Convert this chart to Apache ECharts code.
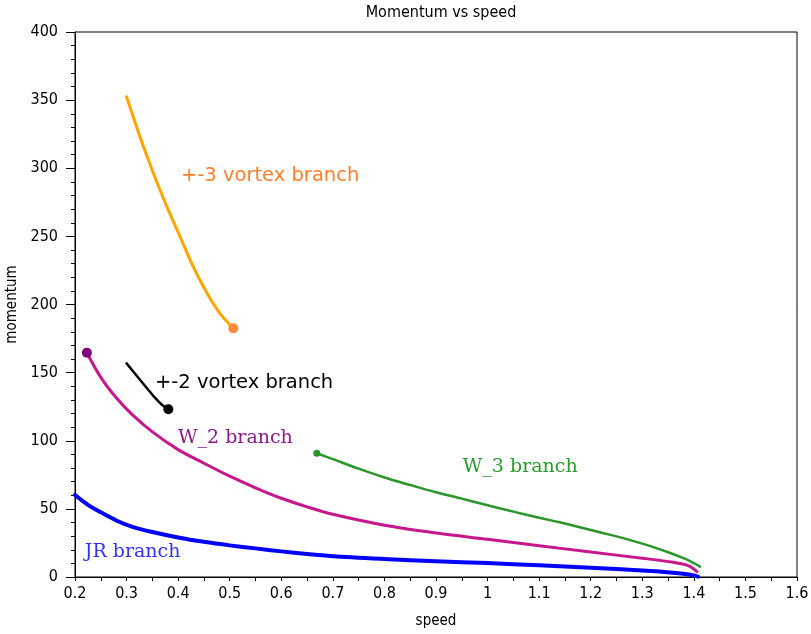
<!DOCTYPE html>
<html><head><meta charset="utf-8">
<script src="https://cdn.jsdelivr.net/npm/echarts@6/dist/echarts.min.js"></script>
<style>html,body{margin:0;padding:0;background:#fff}#c{width:811px;height:634px}</style>
</head><body><div id="c"></div>
<script>
// speed (x), momentum (y)
var vortex3X = [0.300, 0.326, 0.352, 0.378, 0.404, 0.429, 0.455, 0.481, 0.507];
var vortex3Y = [352.5, 323.2, 296.3, 272.0, 249.5, 228.0, 209.0, 193.5, 182.5];
var vortex2X = [0.300, 0.320, 0.340, 0.355, 0.368, 0.381];
var vortex2Y = [156.8, 147.5, 138.4, 131.6, 126.6, 123.1];
var w2X = [0.223, 0.25, 0.28, 0.31, 0.35, 0.40, 0.45, 0.50, 0.55, 0.60, 0.65, 0.70, 0.80, 0.90, 1.00, 1.10, 1.20, 1.30, 1.36, 1.39, 1.406];
var w2Y = [164.6, 146.5, 131.5, 119.5, 106.5, 93.5, 83.5, 74.0, 65.5, 57.8, 51.5, 46.0, 38.0, 32.3, 27.7, 23.0, 18.3, 13.8, 10.8, 8.2, 4.0];
var w3X = [0.669, 0.70, 0.75, 0.80, 0.85, 0.90, 0.95, 1.00, 1.05, 1.10, 1.15, 1.20, 1.25, 1.30, 1.35, 1.38, 1.40, 1.412];
var w3Y = [90.8, 86.5, 79.5, 73.0, 67.5, 62.2, 57.5, 52.7, 48.0, 43.5, 39.2, 34.5, 29.8, 24.5, 18.2, 13.8, 10.2, 7.6];
var jrX = [0.20, 0.225, 0.25, 0.28, 0.31, 0.35, 0.40, 0.45, 0.50, 0.55, 0.60, 0.65, 0.70, 0.80, 0.90, 1.00, 1.10, 1.20, 1.30, 1.36, 1.39, 1.408];
var jrY = [60.2, 53.0, 47.5, 41.5, 37.0, 33.0, 29.0, 25.8, 23.2, 21.0, 18.8, 16.8, 15.2, 13.2, 11.5, 10.2, 8.6, 6.8, 4.8, 3.2, 1.8, 0.3];
var xTicks = [0.2, 0.3, 0.4, 0.5, 0.6, 0.7, 0.8, 0.9, 1, 1.1, 1.2, 1.3, 1.4, 1.5, 1.6];
var yTicks = [0, 50, 100, 150, 200, 250, 300, 350, 400];
var labelTexts = ['+-3 vortex branch', '+-2 vortex branch', 'W_2 branch', 'W_3 branch', 'JR branch'];
var labelX = [0.4055, 0.355, 0.3997, 0.952, 0.219];
var labelY = [294.3, 142.4, 102.0, 80.7, 18.3];

function zip(xs, ys) { return xs.map(function (x, i) { return [x, ys[i]]; }); }

var FONT = '"DejaVu Sans", sans-serif';
var COND = 'condensed';
var lineSeries = function (name, xs, ys, color, width) {
  return { name: name, type: 'line', data: zip(xs, ys), showSymbol: false, smooth: 0.3,
    lineStyle: { color: color, width: width, cap: 'round', join: 'round' }, animation: false, z: 3 };
};
var markerSeries = function (pt, color, size) {
  return { type: 'scatter', data: [pt], symbolSize: size, itemStyle: { color: color, opacity: 1 }, animation: false, z: 4 };
};
var labelStyles = [
  { color: '#ff7f2a', fontFamily: 'DejaVu Sans, sans-serif', fontSize: 19.5 },
  { color: '#000000', fontFamily: 'DejaVu Sans, sans-serif', fontSize: 19.5 },
  { color: '#8b1a8b', fontFamily: 'DejaVu Serif, serif', fontSize: 19 },
  { color: '#2a9a2a', fontFamily: 'DejaVu Serif, serif', fontSize: 19 },
  { color: '#3333ff', fontFamily: 'DejaVu Serif, serif', fontSize: 19 }
];

var chart = echarts.init(document.getElementById('c'), null, { renderer: 'canvas' });
chart.setOption({
  backgroundColor: '#fff',
  animation: false,
  title: { text: 'Momentum vs speed', left: 436, textAlign: 'center', top: 0,
    textStyle: { fontSize: 16, fontWeight: COND, color: '#000', fontFamily: FONT } },
  grid: { left: 75, right: 14, top: 32, bottom: 57, show: true, borderColor: '#000', borderWidth: 1,
    backgroundColor: 'transparent', containLabel: false, outerBoundsMode: 'none' },
  xAxis: { type: 'value', min: 0.2, max: 1.6, interval: 0.1, name: 'speed', nameLocation: 'middle', nameGap: 37,
    nameTextStyle: { fontSize: 15, color: '#000', fontFamily: FONT, fontWeight: COND },
    axisLine: { lineStyle: { color: '#000', width: 1 } },
    axisTick: { show: true, inside: false, length: 4, lineStyle: { color: '#000' } },
    minorTick: { show: true, splitNumber: 2, length: 4, lineStyle: { color: '#000' } },
    splitLine: { show: false },
    axisLabel: { color: '#000', fontSize: 16, margin: 9, fontFamily: FONT, fontWeight: COND,
      formatter: function (v) { var t = xTicks.find(function (k) { return Math.abs(k - v) < 1e-6; }); return t === undefined ? '' : String(t); } } },
  yAxis: { type: 'value', min: 0, max: 400, interval: 50, name: 'momentum', nameLocation: 'middle', nameGap: 48,
    nameTextStyle: { fontSize: 15, color: '#000', fontFamily: FONT, fontWeight: COND },
    axisLine: { show: true, lineStyle: { color: '#000', width: 1 } },
    axisTick: { show: true, inside: false, length: 9, lineStyle: { color: '#000' } },
    minorTick: { show: true, splitNumber: 5, length: 4, lineStyle: { color: '#000' } },
    splitLine: { show: false },
    axisLabel: { color: '#000', fontSize: 16, margin: 17, fontFamily: FONT, fontWeight: COND,
      formatter: function (v) { return yTicks.indexOf(v) >= 0 ? String(v) : ''; } } },
  series: [
    lineSeries('+-3 vortex', vortex3X, vortex3Y, '#ffa500', 3),
    lineSeries('+-2 vortex', vortex2X, vortex2Y, '#000000', 2.5),
    lineSeries('W_2', w2X, w2Y, '#c8168c', 3),
    lineSeries('W_3', w3X, w3Y, '#2a962a', 2.5),
    lineSeries('JR', jrX, jrY, '#0000ff', 4),
    markerSeries([vortex3X[vortex3X.length - 1], vortex3Y[vortex3Y.length - 1]], '#ff8c3c', 10),
    markerSeries([vortex2X[vortex2X.length - 1], vortex2Y[vortex2Y.length - 1]], '#000000', 10),
    markerSeries([w2X[0], w2Y[0]], '#800080', 10),
    markerSeries([w3X[0], w3Y[0]], '#2a962a', 7),
    { type: 'scatter', symbolSize: 0, animation: false, z: 5, silent: true, itemStyle: { opacity: 1 },
      data: labelTexts.map(function (t, i) {
        return { value: [labelX[i], labelY[i]],
          label: Object.assign({ show: true, position: 'right', distance: 0, opacity: 1, formatter: t }, labelStyles[i]) };
      }) }
  ]
});
</script></body></html>
